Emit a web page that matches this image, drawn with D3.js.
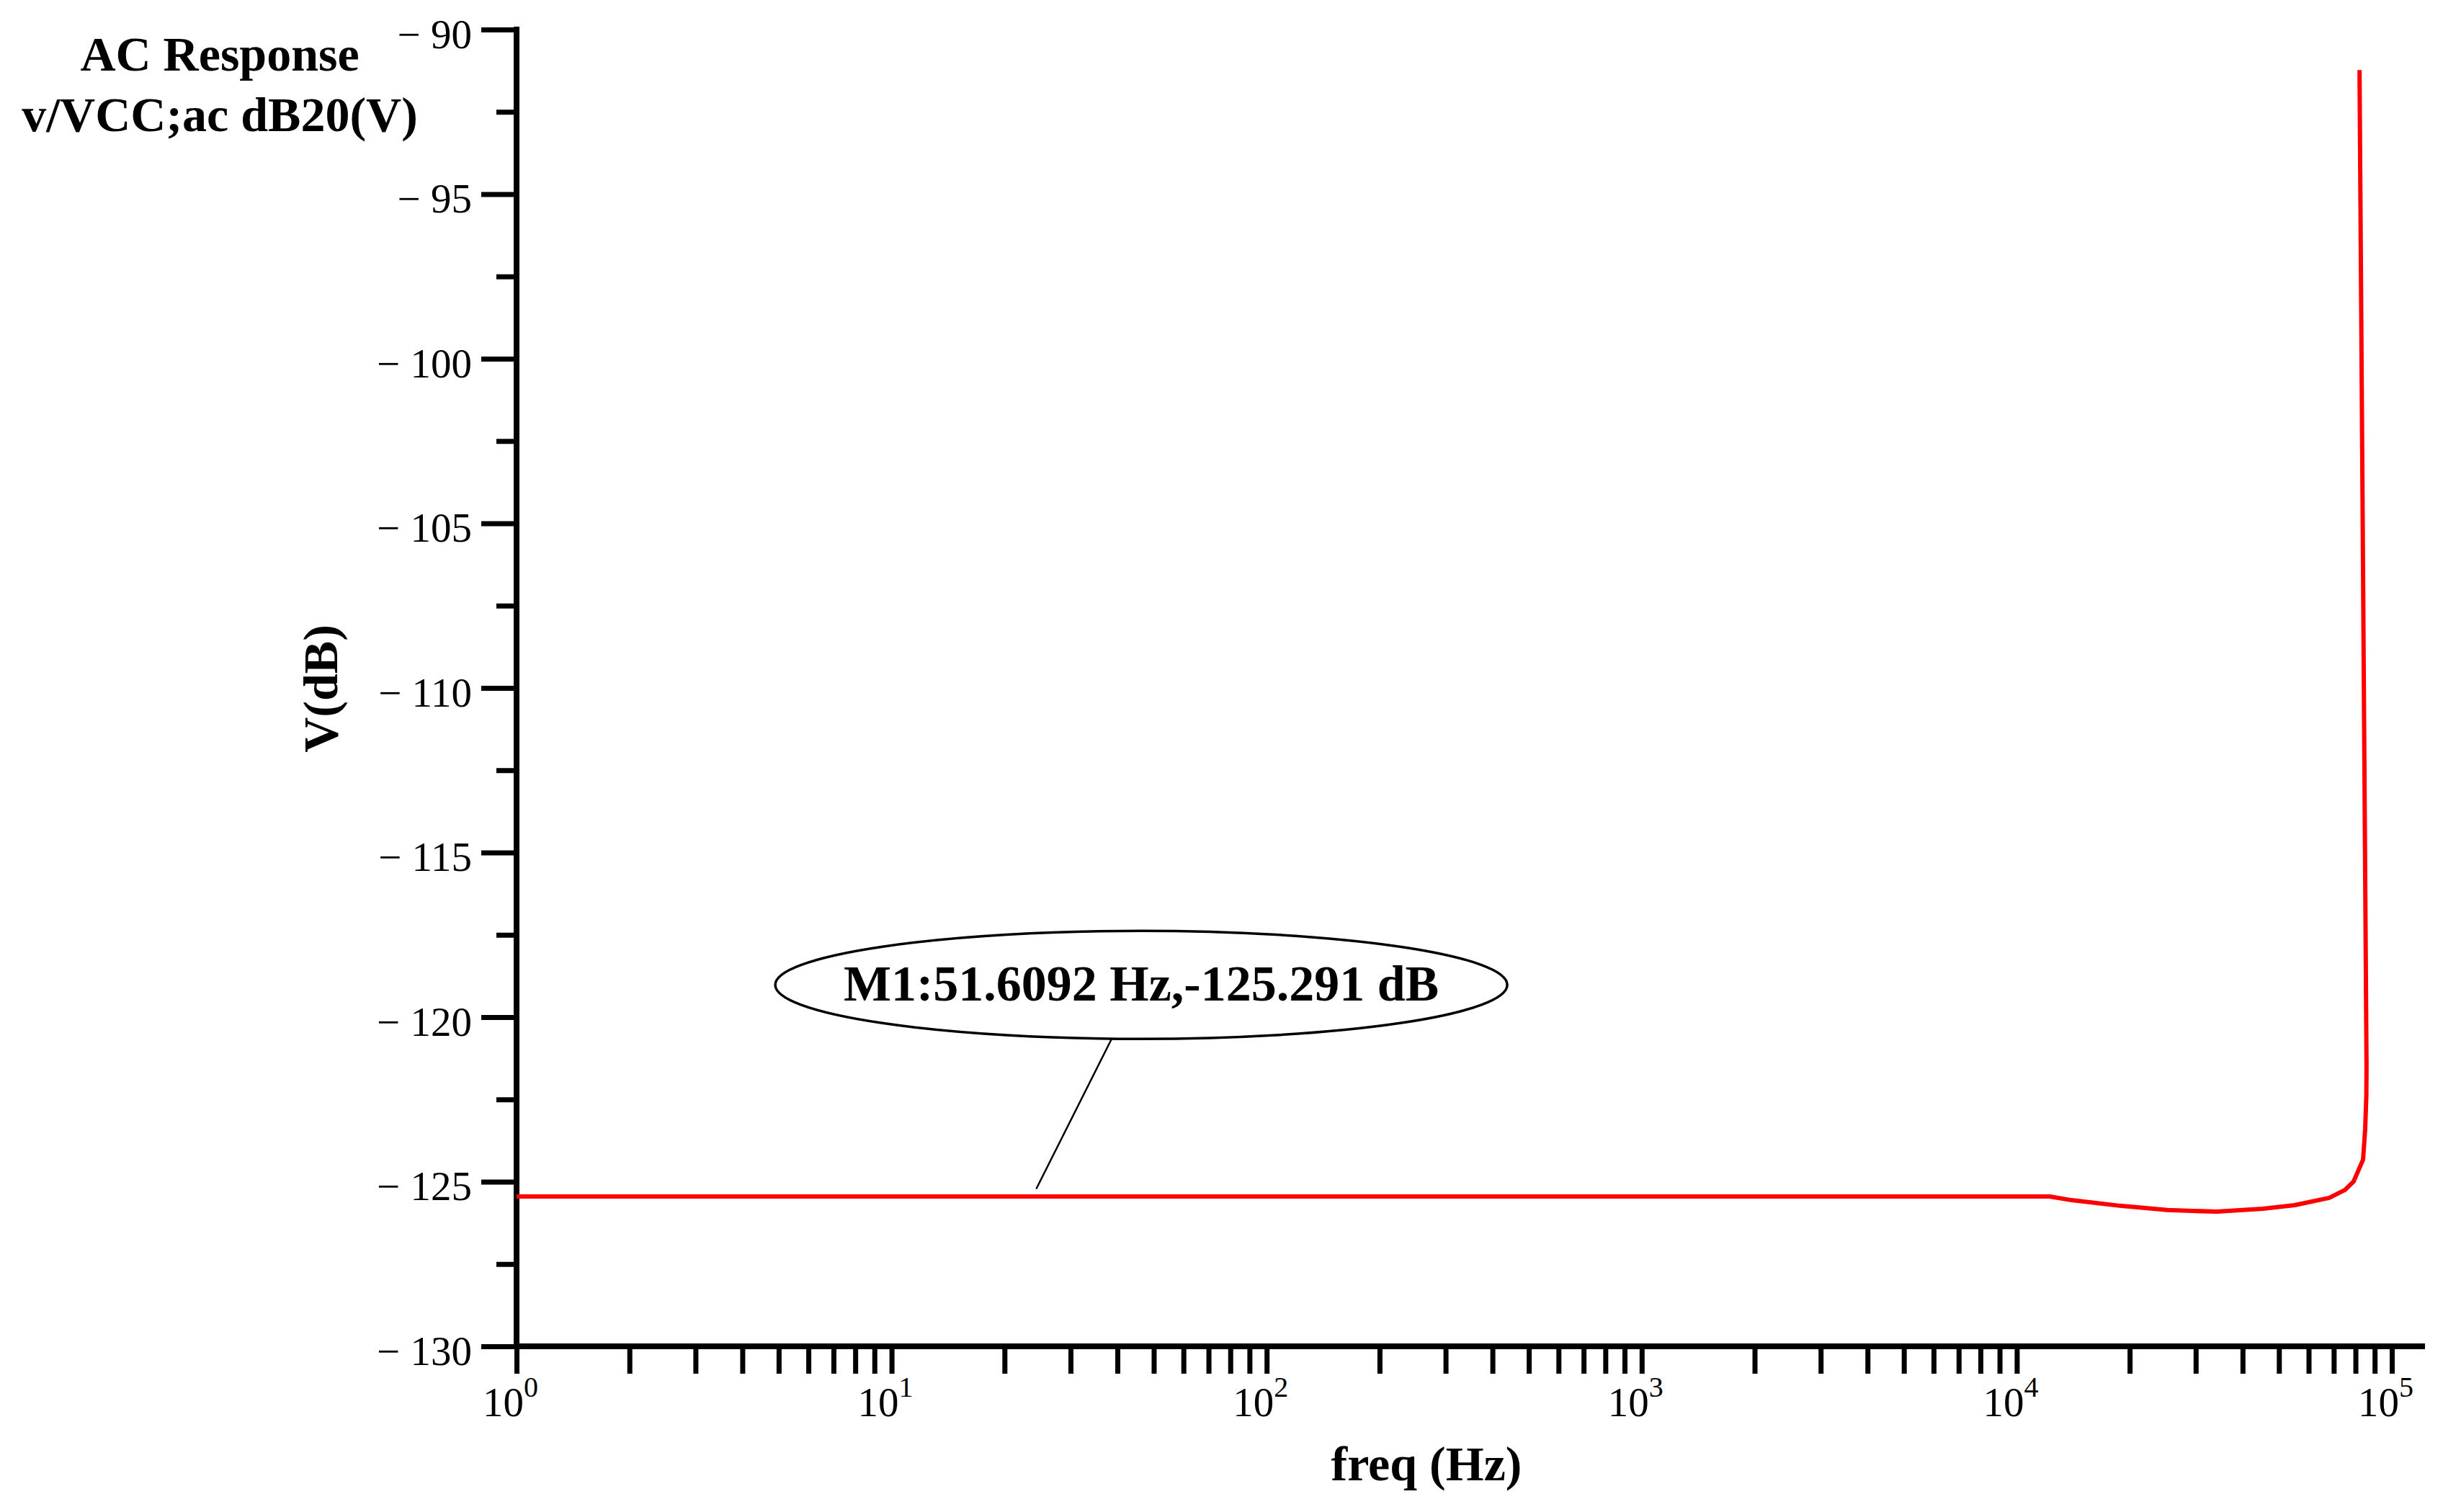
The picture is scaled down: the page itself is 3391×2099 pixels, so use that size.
<!DOCTYPE html>
<html>
<head>
<meta charset="utf-8">
<script src="https://cdn.jsdelivr.net/npm/d3@7"></script>
<style>
body { margin: 0; background: #fff; }
text { font-family: "Liberation Serif", "Times New Roman", serif; fill: #000; }
</style>
</head>
<body>
<svg id="chart"></svg>
<script>
width = 3391
height = 2099

// AC sweep (Hz, dB)
const freq = [1, 10, 100, 1000, 10000, 12240, 14000, 18800, 25200, 34100, 45300, 55100, 68100, 75000, 79100,
              83800, 84900, 85500, 85600, 82000];
const gain = [-125.45, -125.45, -125.45, -125.45, -125.45, -125.45, -125.56, -125.73, -125.86, -125.91, -125.82, -125.71, -125.49, -125.25, -124.99,
              -124.33, -123.39, -122.4, -121.5, -91.23];

const majorDb = [-90, -95, -100, -105, -110, -115, -120, -125, -130];
const minorDb = [-92.5, -97.5, -102.5, -107.5, -112.5, -117.5, -122.5, -127.5];
const decades = [1, 10, 100, 1000, 10000, 100000];
const exponents = ["0", "1", "2", "3", "4", "5"];

const titleLines = ["AC Response", "v/VCC;ac dB20(V)"];
const markerText = "M1:51.6092 Hz,-125.291 dB";
const markerLabel = [46.3, -119.02];   // ellipse centre (Hz, dB)
const markerLeader = [38.6, 24.3, -125.22]; // leader: top freq, bottom freq, bottom dB

const x = d3.scaleLog().domain([1, 1e5]).range([717, 3320]);
const y = d3.scaleLinear().domain([-130, -90]).range([1869, 41]);

const svg = d3.select("#chart")
    .attr("width", width)
    .attr("height", height)
    .style("background", "#fff");

// x ticks: every 1..9 of each decade
const xTicks = [];
decades.slice(0, -1).forEach(function (d) {
  for (let k = 1; k < 10; k++) xTicks.push(d * k);
});
xTicks.push(1e5);

const xAxis = svg.append("g")
    .attr("transform", `translate(0,${y(-130)})`)
    .call(d3.axisBottom(x).tickValues(xTicks).tickSize(38).tickSizeOuter(0).tickFormat(""));
xAxis.select(".domain").remove();
xAxis.selectAll("line").attr("stroke", "#000").attr("stroke-width", 7);

const yAxis = svg.append("g")
    .attr("transform", `translate(${x(1)},0)`)
    .call(d3.axisLeft(y).tickValues(majorDb).tickSize(49).tickSizeOuter(0).tickPadding(13)
      .tickFormat(function (d) { return "\u2212 " + Math.abs(d) }));
yAxis.select(".domain").remove();
yAxis.selectAll("line").attr("stroke", "#000").attr("stroke-width", 7);
yAxis.selectAll("text").attr("font-size", 57).attr("dy", "0.44em");

const yMinor = svg.append("g")
    .attr("transform", `translate(${x(1)},0)`)
    .call(d3.axisLeft(y).tickValues(minorDb).tickSize(28).tickSizeOuter(0).tickFormat(""));
yMinor.select(".domain").remove();
yMinor.selectAll("line").attr("stroke", "#000").attr("stroke-width", 7);

// axis lines
svg.append("line")
    .attr("x1", x(1)).attr("x2", x(1))
    .attr("y1", y(-90)).attr("y2", y(-130))
    .attr("stroke", "#000").attr("stroke-width", 8).attr("stroke-linecap", "square");
svg.append("line")
    .attr("x1", x(1)).attr("x2", x(1e5) + 42)
    .attr("y1", y(-130)).attr("y2", y(-130))
    .attr("stroke", "#000").attr("stroke-width", 8).attr("stroke-linecap", "square");

// decade labels 10^n
const dec = svg.append("g").selectAll("g")
    .data(decades)
    .join("g");
dec.append("text")
    .attr("x", function (d) { return x(d) + 10 })
    .attr("y", y(-130) + 97)
    .attr("text-anchor", "end")
    .attr("font-size", 57)
    .text("10");
dec.append("text")
    .attr("x", function (d) { return x(d) + 10 })
    .attr("y", y(-130) + 70)
    .attr("font-size", 40)
    .text(function (d, i) { return exponents[i] });

// titles
svg.append("g").selectAll("text")
    .data(titleLines)
    .join("text")
    .attr("x", 305)
    .attr("y", function (d, i) { return 98 + i * 84 })
    .attr("text-anchor", "middle")
    .attr("font-size", 68)
    .attr("font-weight", "bold")
    .text(function (d) { return d });

svg.append("text")
    .attr("transform", "translate(468,956) rotate(-90)")
    .attr("text-anchor", "middle")
    .attr("font-size", 68)
    .attr("font-weight", "bold")
    .text("V(dB)");

svg.append("text")
    .attr("x", 1980)
    .attr("y", 2055)
    .attr("text-anchor", "middle")
    .attr("font-size", 68)
    .attr("font-weight", "bold")
    .text("freq (Hz)");

// curve
const pts = freq.map(function (f, i) { return [f, gain[i]] });
svg.append("path")
    .datum(pts)
    .attr("fill", "none")
    .attr("stroke", "#ff0000")
    .attr("stroke-width", 6)
    .attr("stroke-linejoin", "round")
    .attr("d", d3.line()
      .x(function (d) { return x(d[0]) })
      .y(function (d) { return y(d[1]) }));

// marker annotation
const rx = 508, ry = 75;
svg.append("line")
    .attr("x1", x(markerLeader[0])).attr("y1", y(markerLabel[1]) + ry)
    .attr("x2", x(markerLeader[1])).attr("y2", y(markerLeader[2]))
    .attr("stroke", "#000").attr("stroke-width", 2.5);
svg.append("ellipse")
    .attr("cx", x(markerLabel[0])).attr("cy", y(markerLabel[1]))
    .attr("rx", rx).attr("ry", ry)
    .attr("fill", "#fff").attr("stroke", "#000").attr("stroke-width", 3.5);
svg.append("text")
    .attr("x", x(markerLabel[0]))
    .attr("y", y(markerLabel[1]) + 22)
    .attr("text-anchor", "middle")
    .attr("font-size", 70)
    .attr("font-weight", "bold")
    .text(markerText);
</script>
</body>
</html>
